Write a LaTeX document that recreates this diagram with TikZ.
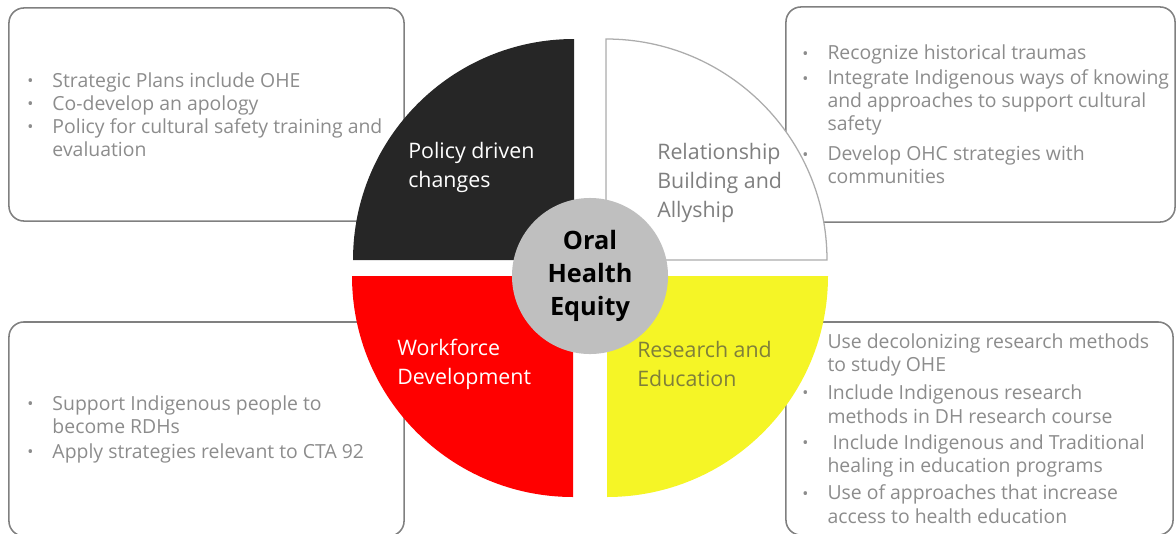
\documentclass[tikz,border=0pt]{standalone}
\usepackage{fontspec}
\setmainfont{Open Sans}
\usetikzlibrary{positioning,calc}
\definecolor{quadBlack}{HTML}{262626}
\definecolor{quadRed}{HTML}{FF0000}
\definecolor{quadYellow}{HTML}{F5F526}
\definecolor{hubGray}{HTML}{BFBFBF}
\definecolor{boxLine}{HTML}{808080}
\definecolor{boxText}{HTML}{8C8C8C}
\definecolor{labGray}{HTML}{7F7F7F}
\definecolor{labOlive}{HTML}{7F7F3A}
\newcommand{\bul}{\makebox[17.8pt][l]{\raisebox{0.3pt}{\fontsize{11.5}{12}\selectfont\textbullet}}}
\newcommand{\ind}{\hspace*{17.8pt}}
\tikzset{
	panel/.style={draw=boxLine, line width=1.1pt, rounded corners=0.375cm, inner sep=0},
	pointtxt/.style={anchor=west, align=left, inner sep=0, text=boxText,
		font=\fontsize{13.8}{16.4}\selectfont},
	quadlab/.style={anchor=west, align=left, inner sep=0,
		font=\fontsize{15.2}{20.6}\selectfont},
	hub/.style={circle, fill=hubGray, minimum size=3.9cm, inner sep=0, align=center,
		font=\bfseries\fontsize{18}{23.5}\selectfont}
}

\begin{document}
\begin{tikzpicture}[x=0.025cm, y=0.025cm]
\useasboundingbox (0,0) rectangle (1176,-533);
% boxes with the action points
\node[panel, minimum width=9.875cm, minimum height=5.325cm] (pol box) at (206.5,-114.5) {};
\node[panel, minimum width=9.725cm, minimum height=5.375cm] (rel box) at (980.5,-114.5) {};
\node[panel, minimum width=9.875cm, minimum height=5.35cm] (wf box) at (206.5,-429) {};
\node[panel, minimum width=9.675cm, minimum height=5.325cm] (res box) at (979.5,-428.5) {};
\node[pointtxt] (pol txt) at ([xshift=0.475cm]pol box.west) {\bul Strategic Plans include OHE\\
	\bul Co-develop an apology\\
	\bul Policy for cultural safety training and\\
	\ind evaluation};
\node[pointtxt] (rel txt) at ([xshift=0.425cm]rel box.west) {\bul Recognize historical traumas\\[1.4pt]
	\bul Integrate Indigenous ways of knowing\\
	\ind and approaches to support cultural\\
	\ind safety\\[5pt]
	\bul Develop OHC strategies with\\
	\ind communities};
\node[pointtxt] (wf txt) at ([xshift=0.475cm]wf box.west) {\bul Support Indigenous people to\\
	\ind become RDHs\\[1.4pt]
	\bul Apply strategies relevant to CTA 92};
\node[pointtxt, font=\fontsize{13.8}{17}\selectfont] (res txt) at ([xshift=0.425cm]res box.west) {\bul Use decolonizing research methods\\
	\ind to study OHE\\[2.4pt]
	\bul Include Indigenous research\\
	\ind methods in DH research course\\[1.4pt]
	\bul\ Include Indigenous and Traditional\\
	\ind healing in education programs\\[2pt]
	\bul Use of approaches that increase\\
	\ind access to health education};
% the four quadrants
\fill[quadBlack] (574,-260) -- (353,-260) arc[start angle=180, end angle=90, radius=221] -- cycle;
\filldraw[fill=white, draw=labGray!65, line width=0.9pt] (606,-260) -- (606,-39) arc[start angle=90, end angle=0, radius=221] -- cycle;
\fill[quadRed] (573,-276) -- (573,-497) arc[start angle=270, end angle=180, radius=221] -- cycle;
\fill[quadYellow] (607,-276) -- (828,-276) arc[start angle=0, end angle=-90, radius=221] -- cycle;
\node[quadlab, text=white] (pol lab) at (408,-167.5) {Policy driven\\changes};
\node[quadlab, text=labGray] (rel lab) at (657,-182.5) {Relationship\\Building and\\Allyship};
\node[quadlab, text=white] (wf lab) at (397,-364) {Workforce\\Development};
\node[quadlab, text=labOlive] (res lab) at (637,-364) {Research and\\Education};
\node[hub] (ohe) at (590,-276) {Oral\\Health\\Equity};
\end{tikzpicture}
\end{document}
